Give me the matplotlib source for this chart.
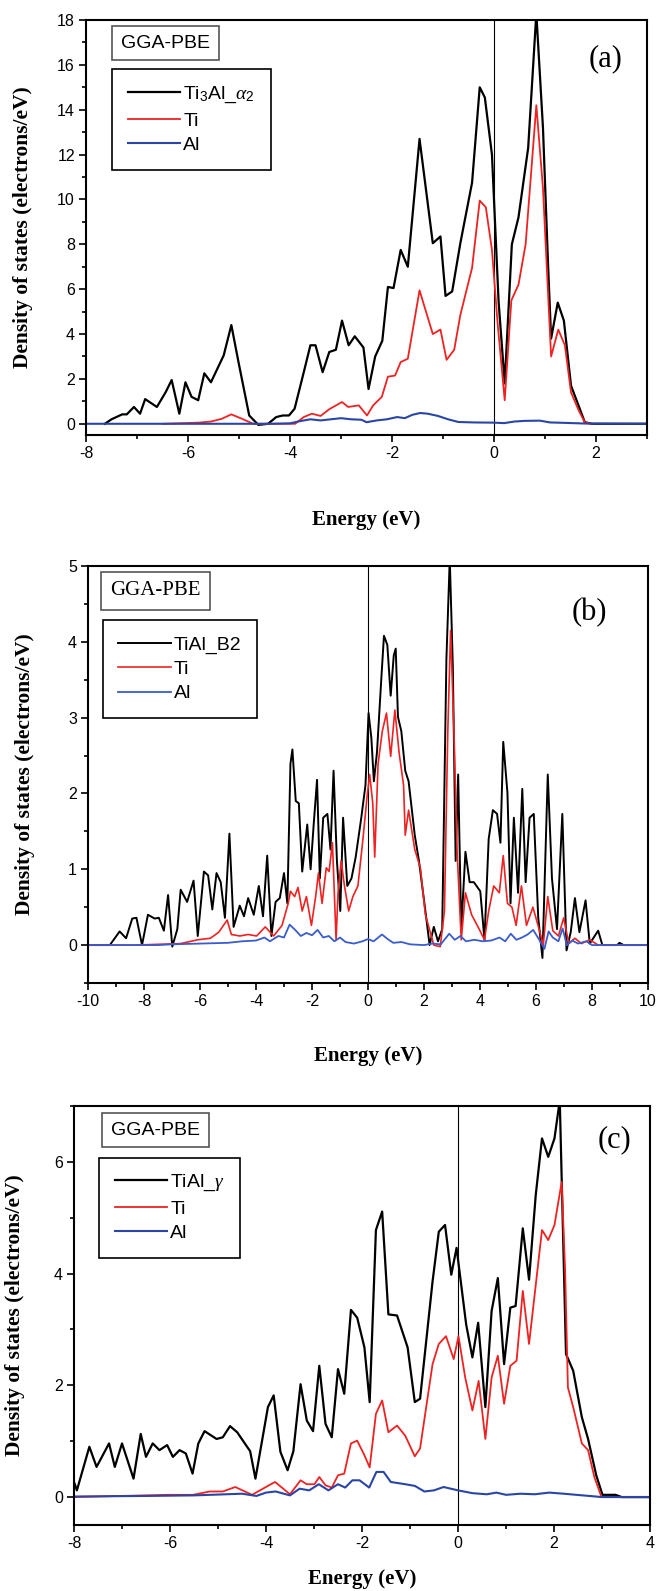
import matplotlib
matplotlib.use("Agg")
import matplotlib.pyplot as plt
from matplotlib.ticker import MultipleLocator

plt.rcParams["axes.unicode_minus"] = False
plt.rcParams["mathtext.fontset"] = "custom"
plt.rcParams["mathtext.rm"] = "Liberation Sans"
plt.rcParams["mathtext.it"] = "Liberation Serif:italic"

# ---------------- data: panel (a) Ti3Al alpha2 ----------------
a_tot_e = [-7.63, -7.5, -7.29, -7.2, -7.06, -6.94, -6.84, -6.61, -6.44, -6.32,
           -6.17, -6.05, -5.93, -5.8, -5.68, -5.55, -5.3, -5.15, -5.01, -4.8,
           -4.62, -4.43, -4.27, -4.14, -4.02, -3.91, -3.73, -3.6, -3.5, -3.36,
           -3.23, -3.1, -2.98, -2.85, -2.73, -2.56, -2.46, -2.33, -2.19, -2.08,
           -1.97, -1.83, -1.69, -1.46, -1.2, -1.05, -0.95, -0.82, -0.66, -0.43,
           -0.28, -0.18, -0.04, 0.09, 0.21, 0.35, 0.48, 0.67, 0.83, 0.96,
           1.06, 1.12, 1.25, 1.37, 1.51, 1.66, 1.78, 1.92, 3.0]
a_tot = [0, 0.2, 0.42, 0.42, 0.75, 0.45, 1.1, 0.75, 1.4, 1.95,
         0.45, 1.85, 1.2, 1.05, 2.25, 1.85, 3.05, 4.4, 2.75, 0.37,
         -0.05, 0, 0.3, 0.37, 0.37, 0.67, 2.3, 3.5, 3.5, 2.3,
         3.2, 3.3, 4.6, 3.5, 3.9, 3.4, 1.55, 3.0, 3.7, 6.1,
         6.05, 7.75, 7.0, 12.7, 8.05, 8.35, 5.7, 5.9, 8.05, 10.75,
         15.0, 14.55, 12.0, 5.45, 1.8, 8.0, 9.2, 12.3, 18.3, 13.2,
         7.1, 3.8, 5.4, 4.6, 1.7, 0.8, 0.07, 0, 0]

a_ti_e = [-6.5, -5.8, -5.55, -5.34, -5.15, -4.97, -4.72, -3.9, -3.73, -3.57,
          -3.4, -3.23, -2.98, -2.86, -2.65, -2.49, -2.37, -2.2, -2.08, -1.94,
          -1.83, -1.69, -1.46, -1.2, -1.05, -0.93, -0.78, -0.66, -0.43, -0.28,
          -0.16, -0.04, 0.07, 0.21, 0.34, 0.48, 0.62, 0.83, 0.96, 1.12,
          1.26, 1.39, 1.51, 1.66, 1.78, 1.92]
a_ti = [0, 0.05, 0.1, 0.22, 0.42, 0.25, 0, 0, 0.3, 0.45,
        0.35, 0.65, 0.97, 0.75, 0.82, 0.37, 0.82, 1.2, 2.1, 2.15,
        2.75, 2.9, 5.95, 4.0, 4.2, 2.85, 3.3, 4.85, 6.95, 9.95,
        9.65, 7.75, 4.5, 1.05, 5.5, 6.2, 8.0, 14.2, 10.5, 3.0,
        4.2, 3.5, 1.4, 0.6, 0.07, 0]

a_al_e = [-8, -4.4, -4.0, -3.8, -3.6, -3.4, -3.2, -3.0, -2.8, -2.6,
          -2.5, -2.3, -2.1, -1.9, -1.75, -1.6, -1.45, -1.3, -1.1, -0.9,
          -0.7, -0.4, 0, 0.2, 0.4, 0.6, 0.9, 1.1, 1.4, 1.8, 3.0]
a_al = [0, 0, 0.02, 0.12, 0.2, 0.15, 0.2, 0.25, 0.2, 0.18,
        0.07, 0.15, 0.2, 0.3, 0.25, 0.4, 0.48, 0.45, 0.35, 0.2,
        0.08, 0.06, 0.05, 0.03, 0.1, 0.13, 0.14, 0.06, 0.04, 0.01, 0]

# ---------------- data: panel (b) TiAl B2 ----------------
b_tot_e = [-10, -9.22, -8.87, -8.64, -8.42, -8.27, -8.07, -7.86, -7.62, -7.47,
           -7.29, -7.14, -6.99, -6.81, -6.69, -6.46, -6.23, -6.08, -5.86, -5.71,
           -5.56, -5.41, -5.26, -5.11, -4.95, -4.8, -4.58, -4.43, -4.28, -4.08,
           -3.9, -3.75, -3.6, -3.45, -3.3, -3.15, -3.0, -2.88, -2.77, -2.7,
           -2.58, -2.47, -2.35, -2.17, -2.05, -1.94, -1.82, -1.72, -1.6, -1.45,
           -1.34, -1.23, -1.11, -0.99, -0.89, -0.74, -0.59, -0.44, -0.24, -0.09,
           0.02, 0.12, 0.21, 0.32, 0.47, 0.57, 0.69, 0.81, 0.92, 0.99,
           1.07, 1.19, 1.33, 1.45, 1.67, 1.82, 2.05, 2.2, 2.35, 2.5,
           2.65, 2.8, 2.92, 3.03, 3.13, 3.22, 3.33, 3.48, 3.63, 3.78,
           4.01, 4.16, 4.31, 4.46, 4.61, 4.73, 4.83, 4.98, 5.09, 5.21,
           5.36, 5.51, 5.63, 5.77, 5.92, 6.08, 6.23, 6.42, 6.57, 6.75,
           6.94, 7.09, 7.24, 7.39, 7.55, 7.77, 7.92, 8.22, 8.37, 8.9,
           8.98, 9.13, 10]
b_tot = [0, 0, 0.18, 0.09, 0.35, 0.36, 0, 0.4, 0.35, 0.36,
         0.19, 0.66, -0.02, 0.21, 0.73, 0.57, 0.85, 0.12, 0.97, 0.92,
         0.47, 0.95, 0.83, 0.36, 1.47, 0.24, 0.52, 0.38, 0.62, 0.4,
         0.78, 0.38, 1.18, 0.12, 0.57, 0.62, 0.95, 0.55, 2.39, 2.58,
         1.9, 1.87, 0.97, 1.59, 1.0, 1.59, 2.18, 0.88, 1.68, 1.73,
         1.26, 2.3, 1.11, 0.45, 1.68, 0.78, 0.88, 1.16, 1.68, 2.11,
         3.06, 2.73, 2.16, 2.54, 3.48, 4.08, 3.96, 3.29, 3.82, 3.91,
         3.01, 2.82, 2.3, 2.16, 1.45, 1.11, 0.45, 0, 0.24, 0.05,
         0.21, 3.77, 5.1, 3.67, 1.11, 2.25, 0.21, 1.23, 0.83, 0.83,
         0.71, 0.07, 1.4, 1.78, 1.73, 1.35, 2.68, 2.01, 0.55, 1.68,
         0.69, 2.06, 0.83, 1.68, 1.73, 0.36, -0.17, 2.25, 0.88, 0.21,
         1.73, -0.07, 0.17, 0.62, 0.17, 0.59, 0.02, 0.19, 0, 0,
         0.03, 0, 0]

b_ti_e = [-10, -8.34, -6.69, -6.08, -5.63, -5.33, -5.03, -4.88, -4.58, -4.28,
          -3.98, -3.67, -3.37, -3.07, -2.85, -2.77, -2.62, -2.5, -2.35, -2.2,
          -2.02, -1.87, -1.77, -1.64, -1.49, -1.39, -1.27, -1.14, -1.07, -0.96,
          -0.84, -0.69, -0.54, -0.36, -0.18, -0.03, 0.06, 0.17, 0.24, 0.36,
          0.51, 0.66, 0.81, 0.96, 1.11, 1.27, 1.33, 1.45, 1.67, 1.87,
          2.05, 2.35, 2.58, 2.73, 2.85, 2.95, 3.07, 3.18, 3.33, 3.48,
          3.7, 3.93, 4.16, 4.31, 4.49, 4.69, 4.83, 4.98, 5.14, 5.29,
          5.48, 5.66, 5.89, 6.11, 6.26, 6.42, 6.6, 6.8, 6.99, 7.17,
          7.39, 7.62, 7.92, 8.22, 10]
b_ti = [0, 0, 0.02, 0.07, 0.09, 0.17, 0.33, 0.14, 0.12, 0.14,
        0.12, 0.24, 0.12, 0.26, 0.55, 0.71, 0.64, 0.76, 0.45, 0.64,
        0.26, 0.64, 0.95, 0.55, 1.02, 0.97, 1.35, 0.07, 0.69, 1.11,
        0.78, 0.45, 0.64, 0.78, 1.4, 1.97, 2.25, 1.87, 1.16, 2.39,
        2.82, 3.06, 2.49, 3.1, 2.54, 2.11, 1.45, 1.78, 1.26, 1.02,
        0.4, 0, -0.02, 0.45, 2.82, 4.15, 2.82, 1.26, 0.07, 0.69,
        0.4, 0.24, 0.07, 0.45, 0.78, 0.69, 1.18, 0.55, 0.5, 0.26,
        0.78, 0.26, 0.5, 0.21, 0, 0.64, 0.19, 0.12, 0.36, 0.02,
        0.09, 0.02, 0.07, 0, 0]

b_al_e = [-10, -7.5, -7, -6, -5, -4.5, -4, -3.7, -3.5, -3.2,
          -3.0, -2.8, -2.6, -2.4, -2.2, -2.0, -1.8, -1.6, -1.4, -1.2,
          -1.0, -0.8, -0.5, -0.2, 0, 0.2, 0.5, 0.7, 0.9, 1.2,
          1.5, 2.0, 2.3, 2.6, 2.9, 3.1, 3.3, 3.5, 3.8, 4.1,
          4.4, 4.7, 4.9, 5.1, 5.3, 5.5, 5.7, 5.9, 6.1, 6.3,
          6.45, 6.6, 6.8, 6.95, 7.1, 7.3, 7.5, 7.8, 8.0, 10]
b_al = [0, 0, 0.01, 0.02, 0.03, 0.05, 0.06, 0.1, 0.05, 0.12,
        0.1, 0.27, 0.2, 0.12, 0.16, 0.13, 0.2, 0.1, 0.12, 0.05,
        0.1, 0.04, 0.02, 0.05, 0.08, 0.05, 0.14, 0.08, 0.03, 0.04,
        0.01, 0.0, 0.02, 0.01, 0.15, 0.07, 0.12, 0.05, 0.07, 0.05,
        0.06, 0.1, 0.05, 0.15, 0.07, 0.1, 0.14, 0.2, 0.08, -0.05,
        0.18, 0.1, 0.05, 0.22, 0.0, 0.06, 0.02, 0.05, 0.0, 0]

# ---------------- data: panel (c) TiAl gamma ----------------
c_tot_e = [-8, -7.94, -7.68, -7.53, -7.27, -7.15, -7.0, -6.76, -6.61, -6.5,
           -6.36, -6.22, -6.06, -5.94, -5.8, -5.67, -5.53, -5.41, -5.28, -5.03,
           -4.9, -4.75, -4.6, -4.33, -4.22, -3.96, -3.84, -3.7, -3.55, -3.43,
           -3.28, -3.15, -3.02, -2.89, -2.76, -2.63, -2.5, -2.37, -2.23, -2.1,
           -1.95, -1.84, -1.71, -1.58, -1.45, -1.27, -1.05, -0.9, -0.79, -0.53,
           -0.4, -0.27, -0.14, -0.03, 0.17, 0.3, 0.42, 0.57, 0.7, 0.83,
           0.96, 1.09, 1.2, 1.35, 1.48, 1.62, 1.75, 1.88, 2.01, 2.12,
           2.25, 2.4, 2.58, 2.71, 2.88, 3.01, 3.15, 3.28, 3.41, 4.0]
c_tot = [0.27, 0.12, 0.9, 0.54, 0.96, 0.54, 0.96, 0.33, 1.13, 0.72,
         0.96, 0.84, 0.93, 0.72, 0.84, 0.78, 0.42, 0.96, 1.18, 1.04,
         1.07, 1.27, 1.16, 0.82, 0.33, 1.61, 1.82, 0.81, 0.48, 0.82,
         2.02, 1.37, 1.18, 2.35, 1.31, 1.07, 2.29, 1.85, 3.35, 3.21,
         2.68, 1.7, 4.78, 5.11, 3.27, 3.25, 2.68, 1.7, 1.76, 3.86,
         4.75, 4.87, 3.98, 4.46, 3.09, 2.5, 3.12, 1.61, 3.33, 3.92,
         2.38, 3.39, 3.42, 4.81, 3.89, 5.41, 6.42, 6.09, 6.42, 7.1,
         2.56, 2.26, 1.43, 1.04, 0.39, 0.04, 0.04, 0.04, 0, 0]

c_ti_e = [-8, -6.04, -5.52, -5.17, -4.9, -4.64, -4.29, -3.94, -3.81, -3.5,
          -3.28, -3.15, -2.99, -2.89, -2.76, -2.63, -2.5, -2.37, -2.23, -2.1,
          -1.95, -1.84, -1.71, -1.58, -1.45, -1.27, -1.1, -0.9, -0.79, -0.53,
          -0.4, -0.25, -0.09, 0.01, 0.15, 0.3, 0.43, 0.57, 0.7, 0.83,
          0.96, 1.09, 1.22, 1.35, 1.48, 1.75, 1.88, 2.01, 2.16, 2.23,
          2.29, 2.4, 2.58, 2.71, 2.84, 2.99, 4.0]
c_ti = [0, 0.04, 0.04, 0.1, 0.1, 0.18, 0.04, 0.21, 0.27, 0.05,
        0.3, 0.23, 0.23, 0.36, 0.21, 0.17, 0.39, 0.42, 0.96, 1.01,
        0.75, 0.53, 1.49, 1.73, 1.16, 1.28, 1.1, 0.73, 0.87, 2.38,
        2.74, 2.88, 2.47, 2.88, 2.14, 1.55, 2.08, 1.04, 2.14, 2.53,
        1.67, 2.35, 2.44, 3.69, 2.74, 4.78, 4.6, 4.87, 5.64, 4.1,
        1.96, 1.61, 0.96, 0.84, 0.36, 0, 0]

c_al_e = [-8, -6.5, -5.5, -4.5, -4.2, -4.0, -3.8, -3.5, -3.3, -3.1,
          -2.9, -2.7, -2.5, -2.35, -2.2, -2.05, -1.85, -1.7, -1.55, -1.4,
          -1.1, -0.9, -0.7, -0.5, -0.3, 0, 0.3, 0.6, 0.8, 1.0,
          1.3, 1.6, 1.9, 2.2, 2.6, 3.0, 4.0]
c_al = [0.01, 0.02, 0.03, 0.06, 0.02, 0.08, 0.1, 0.03, 0.15, 0.12,
        0.23, 0.12, 0.23, 0.17, 0.3, 0.3, 0.17, 0.45, 0.45, 0.27,
        0.23, 0.2, 0.1, 0.12, 0.18, 0.12, 0.07, 0.05, 0.08, 0.04,
        0.06, 0.05, 0.08, 0.06, 0.03, 0, 0]

W, H = 658, 1591
BLACK, RED, BLUE = "black", "#ee2222", "#2a45a6"
SANS = "Liberation Sans"
SERIF = "Liberation Serif"


def make_panel(fig, box, xlim, ylim, xmaj, ymaj, ymin):
    """ osy v pixelech: (left, top, right, bottom) """
    l, t, r, b = box
    ax = fig.add_axes([l / W, 1 - b / H, (r - l) / W, (b - t) / H])
    ax.set_xlim(*xlim)
    ax.set_ylim(*ylim)
    ax.xaxis.set_major_locator(MultipleLocator(xmaj))
    ax.xaxis.set_minor_locator(MultipleLocator(xmaj / 2))
    ax.yaxis.set_major_locator(MultipleLocator(ymaj))
    ax.yaxis.set_minor_locator(MultipleLocator(ymin))
    ax.tick_params(which="both", direction="out", top=False, right=False,
                   width=1.2, labelsize=11.5, pad=3)
    ax.tick_params(which="major", length=5)
    ax.tick_params(which="minor", length=3)
    for lab in ax.get_xticklabels() + ax.get_yticklabels():
        lab.set_fontfamily(SANS)
    for s in ax.spines.values():
        s.set_linewidth(1.5)
    ax.axvline(0, color="black", lw=0.8)
    return ax


def dress(ax, lines, labels, tag, gga_box, leg_xy, tag_xy, gga_font,
          ylab_x, elab_y):
    # ramecek GGA-PBE
    gx, gy = gga_box
    ax.text(gx, gy, "GGA-PBE", transform=ax.transAxes, ha="left", va="top",
            fontsize=14 if gga_font == SANS else 15, family=gga_font,
            bbox=dict(boxstyle="square,pad=0.45", fc="white", ec="#555555",
                      lw=1.2))
    # legenda krivek
    leg = ax.legend(lines, labels, loc="upper left", bbox_to_anchor=leg_xy,
                    borderaxespad=0, fancybox=False, edgecolor="black",
                    framealpha=1, handlelength=2.7, handletextpad=0.15,
                    labelspacing=0.35, borderpad=0.8,
                    prop={"family": SANS, "size": 14})
    leg.get_frame().set_linewidth(1.2)
    ax.text(tag_xy[0], tag_xy[1], tag, transform=ax.transAxes, ha="center",
            va="center", fontsize=22, family=SERIF)
    ax.set_ylabel("Density of states (electrons/eV)", family=SERIF,
                  fontweight="bold", fontsize=15.5)
    ax.yaxis.set_label_coords(ylab_x, 0.5)
    ax.set_xlabel("Energy (eV)", family=SERIF, fontweight="bold", fontsize=15)
    ax.xaxis.set_label_coords(0.5, elab_y)


fig = plt.figure(figsize=(W / 100, H / 100), dpi=100)

# ----- panel (a) -----
ax1 = make_panel(fig, (86, 20, 647, 435), (-8, 3), (-0.5, 18), 2, 2, 1)
l1, = ax1.plot(a_tot_e, a_tot, color=BLACK, lw=1.6)
l2, = ax1.plot(a_ti_e, a_ti, color=RED, lw=1.3)
l3, = ax1.plot(a_al_e, a_al, color=BLUE, lw=1.5)
dress(ax1, [l1, l2, l3], [r"Ti$_3$Al_$\alpha_2$", "Ti", "Al"], "(a)",
      (0.062, 0.965), (0.047, 0.881), (0.926, 0.906), SANS, -0.095, -0.18)

# ----- panel (b) -----
ax2 = make_panel(fig, (88, 566, 648, 983), (-10, 10), (-0.5, 5), 2, 1, 0.5)
l1, = ax2.plot(b_tot_e, b_tot, color=BLACK, lw=1.4)
l2, = ax2.plot(b_ti_e, b_ti, color=RED, lw=1.2)
l3, = ax2.plot(b_al_e, b_al, color="#3a5ccc", lw=1.3)
dress(ax2, [l1, l2, l3], ["TiAl_B2", "Ti", "Al"], "(b)", (0.04, 0.963),
      (0.026, 0.87), (0.896, 0.888), SERIF, -0.095, -0.15)

# ----- panel (c) -----
ax3 = make_panel(fig, (74, 1106, 650, 1525), (-8, 4), (-0.5, 7), 2, 2, 1)
l1, = ax3.plot(c_tot_e, c_tot, color=BLACK, lw=1.6)
l2, = ax3.plot(c_ti_e, c_ti, color=RED, lw=1.3)
l3, = ax3.plot(c_al_e, c_al, color=BLUE, lw=1.5)
dress(ax3, [l1, l2, l3], [r"TiAl_$\gamma$", "Ti", "Al"], "(c)",
      (0.064, 0.963), (0.044, 0.877), (0.938, 0.92), SANS, -0.085, -0.105)

fig.savefig("out.png", dpi=100)
